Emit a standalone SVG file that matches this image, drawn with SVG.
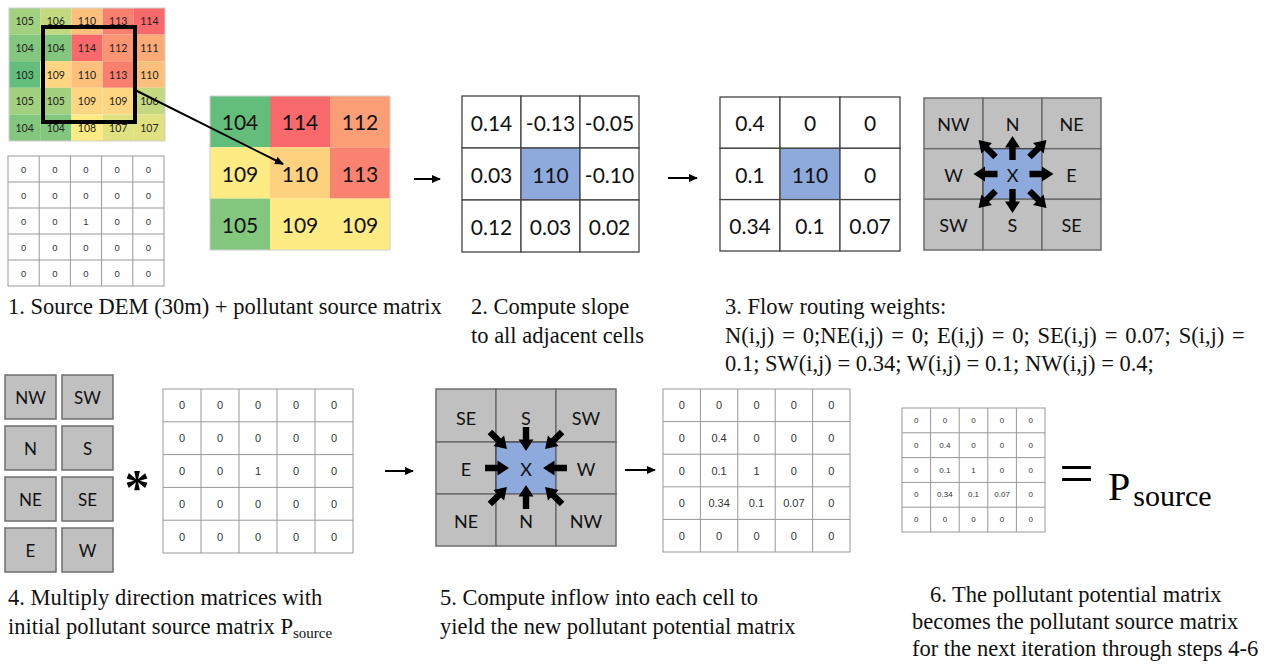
<svg xmlns="http://www.w3.org/2000/svg" xmlns:xlink="http://www.w3.org/1999/xlink" width="1264" height="664" viewBox="0 0 1264 664">
<defs>
  <style>
    .cap{font-family:"Liberation Serif","Times New Roman",serif;font-size:22.5px;fill:#111}
    .num{font-family:Lato,"Open Sans",sans-serif;font-size:21px;fill:#111;text-anchor:middle;dominant-baseline:central}
    .dem{font-family:Lato,"Open Sans",sans-serif;font-size:10.5px;fill:#222;text-anchor:middle;dominant-baseline:central}
    .dir{font-family:Lato,"Open Sans",sans-serif;font-size:18px;fill:#111;text-anchor:middle;dominant-baseline:central}
    .mx{font-family:"Liberation Sans",Arial,sans-serif;fill:#333;text-anchor:middle;dominant-baseline:central}
    .cell{fill:#fff;stroke:#444;stroke-width:1.3}
    .blue{fill:#8EA9DB;stroke:#444;stroke-width:1.3}
    .gray{fill:#C0C0C0;stroke:#6e6e6e;stroke-width:1.5}
    .mline{stroke:#999;stroke-width:1;fill:none}
    .conn{stroke:#000;stroke-width:2;fill:none;marker-end:url(#ah)}
  </style>
  <marker id="ah" markerWidth="9" markerHeight="8" refX="8" refY="4" orient="auto" markerUnits="userSpaceOnUse">
    <path d="M0,0L9,4L0,8Z" fill="#000"/>
  </marker>
  <!-- thick block arrow, tail at origin, tip at x=24 -->
  <path id="blk" d="M0,-3.2H12.5V-7.5L24,0L12.5,7.5V3.2H0Z" fill="#000"/>
</defs>
<rect width="1264" height="664" fill="#fff"/>

<!-- DEM 5x5 -->
<g id="dem">
  <rect x="9" y="8" width="31.2" height="26.6" fill="#A1D07F"/><rect x="40.2" y="8" width="31.2" height="26.6" fill="#C2D980"/><rect x="71.4" y="8" width="31.2" height="26.6" fill="#FDC07C"/><rect x="102.6" y="8" width="31.2" height="26.6" fill="#F97F6F"/><rect x="133.8" y="8" width="31.2" height="26.6" fill="#F8696B"/>
  <rect x="9" y="34.6" width="31.2" height="26.6" fill="#82C77D"/><rect x="40.2" y="34.6" width="31.2" height="26.6" fill="#82C77D"/><rect x="71.4" y="34.6" width="31.2" height="26.6" fill="#F8696B"/><rect x="102.6" y="34.6" width="31.2" height="26.6" fill="#FA9473"/><rect x="133.8" y="34.6" width="31.2" height="26.6" fill="#FCAA77"/>
  <rect x="9" y="61.2" width="31.2" height="26.6" fill="#63BE7B"/><rect x="40.2" y="61.2" width="31.2" height="26.6" fill="#FED580"/><rect x="71.4" y="61.2" width="31.2" height="26.6" fill="#FDC07C"/><rect x="102.6" y="61.2" width="31.2" height="26.6" fill="#F97F6F"/><rect x="133.8" y="61.2" width="31.2" height="26.6" fill="#FDC07C"/>
  <rect x="9" y="87.8" width="31.2" height="26.6" fill="#A1D07F"/><rect x="40.2" y="87.8" width="31.2" height="26.6" fill="#A1D07F"/><rect x="71.4" y="87.8" width="31.2" height="26.6" fill="#FED580"/><rect x="102.6" y="87.8" width="31.2" height="26.6" fill="#FED580"/><rect x="133.8" y="87.8" width="31.2" height="26.6" fill="#C2D980"/>
  <rect x="9" y="114.4" width="31.2" height="26.6" fill="#82C77D"/><rect x="40.2" y="114.4" width="31.2" height="26.6" fill="#82C77D"/><rect x="71.4" y="114.4" width="31.2" height="26.6" fill="#FFEB84"/><rect x="102.6" y="114.4" width="31.2" height="26.6" fill="#E0E282"/><rect x="133.8" y="114.4" width="31.2" height="26.6" fill="#E0E282"/>
  <rect x="9" y="8" width="156" height="133" fill="none" stroke="#d0d0d0" stroke-width="1"/>
  <g class="dem">
    <text x="24.6" y="21.3">105</text><text x="55.8" y="21.3">106</text><text x="87" y="21.3">110</text><text x="118.2" y="21.3">113</text><text x="149.4" y="21.3">114</text>
    <text x="24.6" y="47.9">104</text><text x="55.8" y="47.9">104</text><text x="87" y="47.9">114</text><text x="118.2" y="47.9">112</text><text x="149.4" y="47.9">111</text>
    <text x="24.6" y="74.5">103</text><text x="55.8" y="74.5">109</text><text x="87" y="74.5">110</text><text x="118.2" y="74.5">113</text><text x="149.4" y="74.5">110</text>
    <text x="24.6" y="101.1">105</text><text x="55.8" y="101.1">105</text><text x="87" y="101.1">109</text><text x="118.2" y="101.1">109</text><text x="149.4" y="101.1">106</text>
    <text x="24.6" y="127.7">104</text><text x="55.8" y="127.7">104</text><text x="87" y="127.7">108</text><text x="118.2" y="127.7">107</text><text x="149.4" y="127.7">107</text>
  </g>
  <rect x="43" y="27" width="92" height="95" fill="none" stroke="#000" stroke-width="4"/>
</g>

<!-- initial pollutant source matrix -->
<g id="source-matrix">
  <rect x="8" y="156" width="156" height="130" class="mline"/>
  <path class="mline" d="M39.2,156V286M70.4,156V286M101.6,156V286M132.8,156V286M8,182H164M8,208H164M8,234H164M8,260H164"/>
  <g class="mx" font-size="9.5">
    <text x="23.6" y="169">0</text><text x="54.8" y="169">0</text><text x="86" y="169">0</text><text x="117.2" y="169">0</text><text x="148.4" y="169">0</text>
    <text x="23.6" y="195">0</text><text x="54.8" y="195">0</text><text x="86" y="195">0</text><text x="117.2" y="195">0</text><text x="148.4" y="195">0</text>
    <text x="23.6" y="221">0</text><text x="54.8" y="221">0</text><text x="86" y="221">1</text><text x="117.2" y="221">0</text><text x="148.4" y="221">0</text>
    <text x="23.6" y="247">0</text><text x="54.8" y="247">0</text><text x="86" y="247">0</text><text x="117.2" y="247">0</text><text x="148.4" y="247">0</text>
    <text x="23.6" y="273">0</text><text x="54.8" y="273">0</text><text x="86" y="273">0</text><text x="117.2" y="273">0</text><text x="148.4" y="273">0</text>
  </g>
</g>

<!-- 3x3 elevation window -->
<g id="window">
  <rect x="210" y="96" width="60" height="51.3" fill="#63BE7B"/><rect x="270" y="96" width="60" height="51.3" fill="#F8696B"/><rect x="330" y="96" width="60" height="51.3" fill="#FB9D75"/>
  <rect x="210" y="147.3" width="60" height="51.3" fill="#FFEB84"/><rect x="270" y="147.3" width="60" height="51.3" fill="#FED17F"/><rect x="330" y="147.3" width="60" height="51.3" fill="#F98370"/>
  <rect x="210" y="198.6" width="60" height="51.4" fill="#82C77D"/><rect x="270" y="198.6" width="60" height="51.4" fill="#FFEB84"/><rect x="330" y="198.6" width="60" height="51.4" fill="#FFEB84"/>
  <rect x="210" y="96" width="180" height="154" fill="none" stroke="#d0d0d0" stroke-width="1"/>
  <g class="num">
    <text x="240" y="121.6">104</text><text x="300" y="121.6">114</text><text x="360" y="121.6">112</text>
    <text x="240" y="173">109</text><text x="300" y="173">110</text><text x="360" y="173">113</text>
    <text x="240" y="224.3">105</text><text x="300" y="224.3">109</text><text x="360" y="224.3">109</text>
  </g>
</g>

<!-- slopes -->
<g id="slopes">
  <rect class="cell" x="462" y="96" width="59" height="52"/><rect class="cell" x="521" y="96" width="59" height="52"/><rect class="cell" x="580" y="96" width="59" height="52"/>
  <rect class="cell" x="462" y="148" width="59" height="52"/><rect class="blue" x="521" y="148" width="59" height="52"/><rect class="cell" x="580" y="148" width="59" height="52"/>
  <rect class="cell" x="462" y="200" width="59" height="52"/><rect class="cell" x="521" y="200" width="59" height="52"/><rect class="cell" x="580" y="200" width="59" height="52"/>
  <g class="num">
    <text x="491.5" y="122">0.14</text><text x="550.5" y="122">-0.13</text><text x="609.5" y="122">-0.05</text>
    <text x="491.5" y="174">0.03</text><text x="550.5" y="174">110</text><text x="609.5" y="174">-0.10</text>
    <text x="491.5" y="226">0.12</text><text x="550.5" y="226">0.03</text><text x="609.5" y="226">0.02</text>
  </g>
</g>

<!-- flow weights -->
<g id="weights">
  <rect class="cell" x="720" y="97" width="60" height="51.3"/><rect class="cell" x="780" y="97" width="60" height="51.3"/><rect class="cell" x="840" y="97" width="60" height="51.3"/>
  <rect class="cell" x="720" y="148.3" width="60" height="51.3"/><rect class="blue" x="780" y="148.3" width="60" height="51.3"/><rect class="cell" x="840" y="148.3" width="60" height="51.3"/>
  <rect class="cell" x="720" y="199.6" width="60" height="51.4"/><rect class="cell" x="780" y="199.6" width="60" height="51.4"/><rect class="cell" x="840" y="199.6" width="60" height="51.4"/>
  <g class="num">
    <text x="750" y="122.6">0.4</text><text x="810" y="122.6">0</text><text x="870" y="122.6">0</text>
    <text x="750" y="174">0.1</text><text x="810" y="174">110</text><text x="870" y="174">0</text>
    <text x="750" y="225.3">0.34</text><text x="810" y="225.3">0.1</text><text x="870" y="225.3">0.07</text>
  </g>
</g>

<!-- outflow directions -->
<g id="outflow">
  <rect class="gray" x="924" y="98" width="59" height="50.7"/><rect class="gray" x="983" y="98" width="59" height="50.7"/><rect class="gray" x="1042" y="98" width="59" height="50.7"/>
  <rect class="gray" x="924" y="148.7" width="59" height="50.6"/><rect class="blue" x="983" y="148.7" width="59" height="50.6"/><rect class="gray" x="1042" y="148.7" width="59" height="50.6"/>
  <rect class="gray" x="924" y="199.3" width="59" height="50.7"/><rect class="gray" x="983" y="199.3" width="59" height="50.7"/><rect class="gray" x="1042" y="199.3" width="59" height="50.7"/>
  <g class="dir">
    <text x="953.5" y="124">NW</text><text x="1012.5" y="124">N</text><text x="1071.5" y="124">NE</text>
    <text x="953.5" y="175">W</text><text x="1012.5" y="175">X</text><text x="1071.5" y="175">E</text>
    <text x="953.5" y="225">SW</text><text x="1012.5" y="225">S</text><text x="1071.5" y="225">SE</text>
  </g>
  <g transform="translate(1012.5,174)">
    <use xlink:href="#blk" transform="rotate(-90) translate(14,0)"/>
    <use xlink:href="#blk" transform="rotate(90) translate(15,0)"/>
    <use xlink:href="#blk" transform="rotate(0) translate(17,0)"/>
    <use xlink:href="#blk" transform="rotate(180) translate(15,0)"/>
    <use xlink:href="#blk" transform="rotate(-45) translate(24,0)"/>
    <use xlink:href="#blk" transform="rotate(-135) translate(24,0)"/>
    <use xlink:href="#blk" transform="rotate(45) translate(24,0)"/>
    <use xlink:href="#blk" transform="rotate(135) translate(24,0)"/>
  </g>
</g>

<!-- direction matrices -->
<g id="direction-matrices">
  <rect class="gray" x="5" y="375" width="51" height="44"/><rect class="gray" x="62" y="375" width="51" height="44"/>
  <rect class="gray" x="5" y="426" width="51" height="44"/><rect class="gray" x="62" y="426" width="51" height="44"/>
  <rect class="gray" x="5" y="477" width="51" height="44"/><rect class="gray" x="62" y="477" width="51" height="44"/>
  <rect class="gray" x="5" y="528" width="51" height="44"/><rect class="gray" x="62" y="528" width="51" height="44"/>
  <g class="dir" style="font-size:17px">
    <text x="30.5" y="397">NW</text><text x="87.5" y="397">SW</text>
    <text x="30.5" y="448">N</text><text x="87.5" y="448">S</text>
    <text x="30.5" y="499">NE</text><text x="87.5" y="499">SE</text>
    <text x="30.5" y="550">E</text><text x="87.5" y="550">W</text>
  </g>
  <text x="137" y="504" font-family="'Liberation Serif',serif" font-weight="bold" font-size="50" text-anchor="middle" fill="#000">*</text>
</g>

<!-- pollutant source matrix P_source -->
<g id="p-source">
  <rect x="163" y="389" width="190" height="164" class="mline"/>
  <path class="mline" d="M201,389V553M239,389V553M277,389V553M315,389V553M163,421.8H353M163,454.6H353M163,487.4H353M163,520.2H353"/>
  <g class="mx" font-size="11">
    <text x="182" y="405.4">0</text><text x="220" y="405.4">0</text><text x="258" y="405.4">0</text><text x="296" y="405.4">0</text><text x="334" y="405.4">0</text>
    <text x="182" y="438.2">0</text><text x="220" y="438.2">0</text><text x="258" y="438.2">0</text><text x="296" y="438.2">0</text><text x="334" y="438.2">0</text>
    <text x="182" y="471">0</text><text x="220" y="471">0</text><text x="258" y="471">1</text><text x="296" y="471">0</text><text x="334" y="471">0</text>
    <text x="182" y="503.8">0</text><text x="220" y="503.8">0</text><text x="258" y="503.8">0</text><text x="296" y="503.8">0</text><text x="334" y="503.8">0</text>
    <text x="182" y="536.6">0</text><text x="220" y="536.6">0</text><text x="258" y="536.6">0</text><text x="296" y="536.6">0</text><text x="334" y="536.6">0</text>
  </g>
</g>

<!-- inflow directions -->
<g id="inflow">
  <rect class="gray" x="436" y="389" width="60" height="53"/><rect class="gray" x="496" y="389" width="60" height="53"/><rect class="gray" x="556" y="389" width="60" height="53"/>
  <rect class="gray" x="436" y="442" width="60" height="52"/><rect class="blue" x="496" y="442" width="60" height="52"/><rect class="gray" x="556" y="442" width="60" height="52"/>
  <rect class="gray" x="436" y="494" width="60" height="52"/><rect class="gray" x="496" y="494" width="60" height="52"/><rect class="gray" x="556" y="494" width="60" height="52"/>
  <g class="dir">
    <text x="466" y="418">SE</text><text x="526" y="418">S</text><text x="586" y="418">SW</text>
    <text x="466" y="469">E</text><text x="526" y="469">X</text><text x="586" y="469">W</text>
    <text x="466" y="521">NE</text><text x="526" y="521">N</text><text x="586" y="521">NW</text>
  </g>
  <g transform="translate(526,468)">
    <use xlink:href="#blk" transform="rotate(-90) translate(41,0) rotate(180)"/>
    <use xlink:href="#blk" transform="rotate(90) translate(41,0) rotate(180)"/>
    <use xlink:href="#blk" transform="rotate(0) translate(41,0) rotate(180)"/>
    <use xlink:href="#blk" transform="rotate(180) translate(41,0) rotate(180)"/>
    <use xlink:href="#blk" transform="rotate(-45) translate(51,0) rotate(180)"/>
    <use xlink:href="#blk" transform="rotate(-135) translate(51,0) rotate(180)"/>
    <use xlink:href="#blk" transform="rotate(45) translate(51,0) rotate(180)"/>
    <use xlink:href="#blk" transform="rotate(135) translate(51,0) rotate(180)"/>
  </g>
</g>

<!-- new pollutant potential matrix -->
<g id="potential">
  <rect x="663" y="389" width="187" height="163" class="mline"/>
  <path class="mline" d="M700.4,389V552M737.8,389V552M775.2,389V552M812.6,389V552M663,421.6H850M663,454.2H850M663,486.8H850M663,519.4H850"/>
  <g class="mx" font-size="11">
    <text x="681.7" y="405.3">0</text><text x="719.1" y="405.3">0</text><text x="756.5" y="405.3">0</text><text x="793.9" y="405.3">0</text><text x="831.3" y="405.3">0</text>
    <text x="681.7" y="437.9">0</text><text x="719.1" y="437.9">0.4</text><text x="756.5" y="437.9">0</text><text x="793.9" y="437.9">0</text><text x="831.3" y="437.9">0</text>
    <text x="681.7" y="470.5">0</text><text x="719.1" y="470.5">0.1</text><text x="756.5" y="470.5">1</text><text x="793.9" y="470.5">0</text><text x="831.3" y="470.5">0</text>
    <text x="681.7" y="503.1">0</text><text x="719.1" y="503.1">0.34</text><text x="756.5" y="503.1">0.1</text><text x="793.9" y="503.1">0.07</text><text x="831.3" y="503.1">0</text>
    <text x="681.7" y="535.7">0</text><text x="719.1" y="535.7">0</text><text x="756.5" y="535.7">0</text><text x="793.9" y="535.7">0</text><text x="831.3" y="535.7">0</text>
  </g>
</g>

<!-- potential becomes the next source -->
<g id="next-source">
  <rect x="902" y="408" width="143" height="124" class="mline"/>
  <path class="mline" d="M930.6,408V532M959.2,408V532M987.8,408V532M1016.4,408V532M902,432.8H1045M902,457.6H1045M902,482.4H1045M902,507.2H1045"/>
  <g class="mx" font-size="8">
    <text x="916.3" y="420.4">0</text><text x="944.9" y="420.4">0</text><text x="973.5" y="420.4">0</text><text x="1002.1" y="420.4">0</text><text x="1030.7" y="420.4">0</text>
    <text x="916.3" y="445.2">0</text><text x="944.9" y="445.2">0.4</text><text x="973.5" y="445.2">0</text><text x="1002.1" y="445.2">0</text><text x="1030.7" y="445.2">0</text>
    <text x="916.3" y="470">0</text><text x="944.9" y="470">0.1</text><text x="973.5" y="470">1</text><text x="1002.1" y="470">0</text><text x="1030.7" y="470">0</text>
    <text x="916.3" y="494.8">0</text><text x="944.9" y="494.8">0.34</text><text x="973.5" y="494.8">0.1</text><text x="1002.1" y="494.8">0.07</text><text x="1030.7" y="494.8">0</text>
    <text x="916.3" y="519.6">0</text><text x="944.9" y="519.6">0</text><text x="973.5" y="519.6">0</text><text x="1002.1" y="519.6">0</text><text x="1030.7" y="519.6">0</text>
  </g>
  <text x="1059" y="494" font-family="'Liberation Serif',serif" font-size="62" fill="#000">=</text>
  <text x="1108" y="500" font-family="'Liberation Serif',serif" font-size="40" fill="#000">P<tspan font-size="30" dx="3" dy="6">source</tspan></text>
</g>

<!-- connectors -->
<g id="connectors">
  <line class="conn" x1="135" y1="90" x2="283" y2="164"/>
  <line class="conn" x1="414" y1="179" x2="440" y2="179"/>
  <line class="conn" x1="668" y1="178" x2="697" y2="178"/>
  <line class="conn" x1="385" y1="471" x2="413" y2="471"/>
  <line class="conn" x1="625" y1="470" x2="655" y2="470"/>
</g>

<!-- step captions -->
<g id="captions" class="cap">
  <text x="8" y="314">1. Source DEM (30m) + pollutant source matrix</text>
  <text x="471" y="314">2. Compute slope</text>
  <text x="471" y="343">to all adjacent cells</text>
  <text x="725" y="314">3. Flow routing weights:</text>
  <text x="725" y="343" word-spacing="2.2">N(i,j) = 0;NE(i,j) = 0; E(i,j) = 0; SE(i,j) = 0.07; S(i,j) =</text>
  <text x="725" y="371">0.1; SW(i,j) = 0.34; W(i,j) = 0.1; NW(i,j) = 0.4;</text>
  <text x="8" y="605">4. Multiply direction matrices with</text>
  <text x="8" y="634">initial pollutant source matrix P<tspan font-size="15" dy="4">source</tspan></text>
  <text x="440" y="605">5. Compute inflow into each cell to</text>
  <text x="440" y="634">yield the new pollutant potential matrix</text>
  <text x="930" y="602">6. The pollutant potential matrix</text>
  <text x="912" y="629">becomes the pollutant source matrix</text>
  <text x="912" y="656">for the next iteration through steps 4-6</text>
</g>
</svg>
